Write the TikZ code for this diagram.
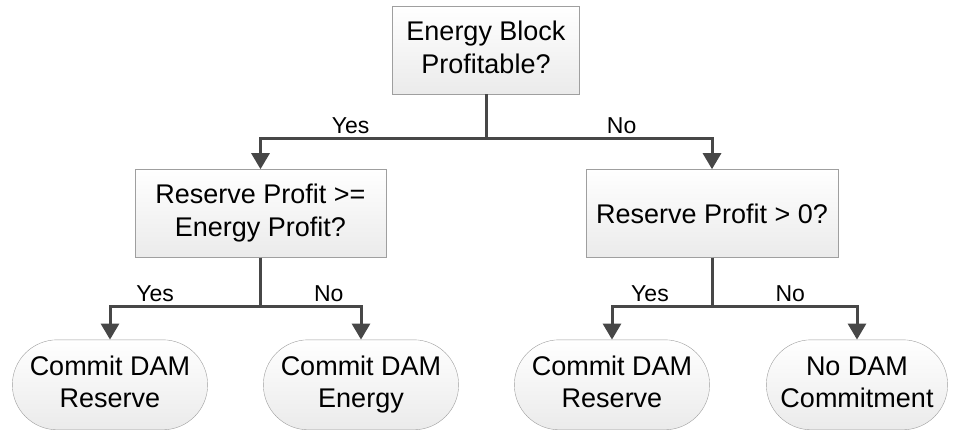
\documentclass[tikz,border=0pt]{standalone}
\usepackage{fontspec}
\setmainfont{Liberation Sans}
\usetikzlibrary{positioning, arrows.meta, shapes.misc}
\newcommand\boxstrut{\rule[-5.7pt]{0pt}{30.7pt}}

\begin{document}
\begin{tikzpicture}[x=1pt,y=1pt,>={Triangle[width=18pt,length=16pt]},node distance=75pt,
	question/.style={rectangle, draw=gray!75, top color=white, bottom color=gray!16, align=center, minimum height=88pt, font=\fontsize{27}{33}\selectfont, execute at begin node=\boxstrut, execute at end node=\boxstrut},
	outcome/.style={rounded rectangle, draw=gray!75, top color=white, bottom color=gray!16, align=center, minimum width=202pt, minimum height=90pt, font=\fontsize{27}{32}\selectfont, execute at begin node=\boxstrut, execute at end node=\boxstrut},
	branch/.style={->, line width=3pt, draw=black!72},
	answer/.style={font=\fontsize{23}{26}\selectfont, above=0pt}]
	\useasboundingbox (0,0) rectangle (953,429);
	\node[question, minimum width=187pt						] (ENERGY) 		at (486,379) {Energy Block\\Profitable?};
	\node[question, minimum width=251pt, below=75pt of ENERGY, xshift=-225.5pt	] (RES_GE) 		{Reserve Profit >=\\Energy Profit?};
	\node[question, minimum width=252pt, below=75pt of ENERGY, xshift=226pt		] (RES_POS) 	{Reserve Profit > 0?};

	\node[outcome, below=82pt of RES_GE, xshift=-150.5pt		] (DAM_RES_A) 	{Commit DAM\\Reserve};
	\node[outcome, below=82pt of RES_GE, xshift=100.5pt		] (DAM_ENERGY) 	{Commit DAM\\Energy};
	\node[outcome, below=82pt of RES_POS, xshift=-100pt		] (DAM_RES_B) 	{Commit DAM\\Reserve};
	\node[outcome, minimum width=188pt, below=82pt of RES_POS, xshift=145pt	] (NO_DAM) 		{No DAM\\Commitment};

	\draw[branch]	(ENERGY.south)	-- ++(0,-44) -| node[answer, pos=0.3 ]{Yes}	(RES_GE.north);
	\draw[branch]	(ENERGY.south)	-- ++(0,-44) -| node[answer, pos=0.3 ]{No}	(RES_POS.north);
	\draw[branch]	(RES_GE.south)	-- ++(0,-49) -| node[answer, pos=0.35]{Yes}	(DAM_RES_A.north);
	\draw[branch]	(RES_GE.south)	-- ++(0,-49) -| node[answer, pos=0.34]{No}	(DAM_ENERGY.north);
	\draw[branch]	(RES_POS.south)	-- ++(0,-49) -| node[answer, pos=0.31]{Yes}	(DAM_RES_B.north);
	\draw[branch]	(RES_POS.south)	-- ++(0,-49) -| node[answer, pos=0.27]{No}	(NO_DAM.north);
\end{tikzpicture}
\end{document}
